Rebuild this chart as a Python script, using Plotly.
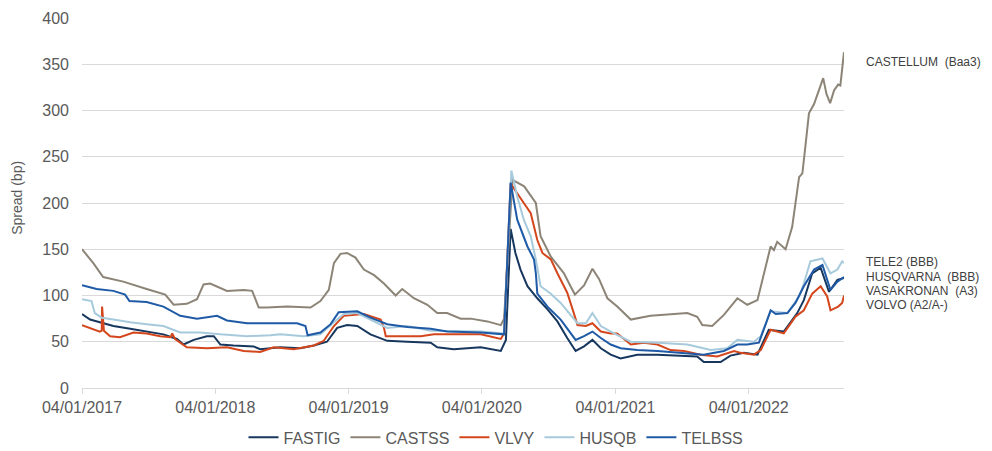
import plotly.graph_objects as go

# ---- CASTSS (Castellum) ----
castss_dates = [
    "2017-01-04", "2017-02-04", "2017-03-03", "2017-04-27", "2017-06-30", "2017-08-20",
    "2017-09-12", "2017-10-18", "2017-11-15", "2017-12-03", "2017-12-21", "2018-02-05",
    "2018-03-23", "2018-04-15", "2018-05-03", "2018-05-26", "2018-07-20", "2018-09-22",
    "2018-10-19", "2018-11-11", "2018-11-25", "2018-12-13", "2018-12-31", "2019-01-23",
    "2019-02-15", "2019-03-15", "2019-04-11", "2019-05-13", "2019-05-31", "2019-07-02",
    "2019-08-08", "2019-09-04", "2019-10-01", "2019-11-07", "2019-12-05", "2020-01-19",
    "2020-02-25", "2020-03-05", "2020-03-28", "2020-04-29", "2020-05-31", "2020-06-13",
    "2020-07-11", "2020-08-16", "2020-09-03", "2020-09-15", "2020-10-10", "2020-11-02",
    "2020-11-20", "2020-12-13", "2021-01-09", "2021-02-15", "2021-04-10", "2021-06-04",
    "2021-07-20", "2021-08-16", "2021-08-30", "2021-09-26", "2021-10-28", "2021-12-04",
    "2021-12-31", "2022-01-28", "2022-02-15", "2022-03-05", "2022-03-14", "2022-03-23",
    "2022-04-15", "2022-05-03", "2022-05-22", "2022-05-31", "2022-06-09", "2022-06-18",
    "2022-07-02", "2022-07-15", "2022-07-27", "2022-08-05", "2022-08-15", "2022-08-26",
    "2022-09-06", "2022-09-12", "2022-09-22",
]
castss_values = [
    150, 135, 120, 115, 107, 101,
    90, 91, 96, 112, 113, 105,
    106, 105, 87, 87, 88, 87,
    94, 106, 135, 145, 146, 141,
    128, 122, 113, 100, 107, 97,
    90, 81, 81, 75, 75, 72,
    68, 75, 225, 218, 200, 164,
    142, 124, 110, 101, 111, 129,
    118, 97, 88, 74, 78, 80,
    81, 77, 68, 67, 79, 97,
    90, 95, 124, 153, 149, 158,
    150, 174, 228, 232, 264, 297,
    307, 322, 335, 318, 308, 322,
    328, 327, 363,
]

# ---- TELBSS (Tele2) ----
telbss_dates = [
    "2017-01-04", "2017-02-13", "2017-03-31", "2017-05-02", "2017-05-14", "2017-06-30",
    "2017-08-15", "2017-09-30", "2017-11-15", "2018-01-09", "2018-02-05", "2018-04-01",
    "2018-05-26", "2018-08-16", "2018-09-08", "2018-09-14", "2018-10-19", "2018-11-16",
    "2018-12-08", "2019-01-28", "2019-03-05", "2019-04-20", "2019-06-14", "2019-08-17",
    "2019-10-01", "2020-01-01", "2020-03-05", "2020-03-12", "2020-03-23", "2020-04-10",
    "2020-05-08", "2020-05-26", "2020-05-31", "2020-06-04", "2020-07-02", "2020-08-07",
    "2020-09-17", "2020-10-10", "2020-11-02", "2020-11-25", "2020-12-22", "2021-01-18",
    "2021-03-05", "2021-04-29", "2021-07-11", "2021-09-03", "2021-10-28", "2021-12-04",
    "2021-12-31", "2022-02-01", "2022-02-24", "2022-03-05", "2022-03-19", "2022-04-20",
    "2022-05-12", "2022-06-04", "2022-07-02", "2022-07-25", "2022-08-16", "2022-09-04",
    "2022-09-22",
]
telbss_values = [
    111, 107, 105, 101, 94, 93,
    88, 78, 75, 78, 73, 70,
    70, 70, 67, 57, 60, 69,
    82, 83, 76, 69, 66, 64,
    61, 60, 58, 124, 222, 182,
    153, 139, 124, 102, 88, 74,
    52, 56, 61, 54, 47, 43,
    41, 40, 38, 36, 40, 47,
    47, 49, 74, 84, 80, 81,
    92, 110, 128, 133, 106, 115,
    120,
]

# ---- HUSQB (Husqvarna) ----
husqb_dates = [
    "2017-01-04", "2017-01-30", "2017-02-08", "2017-02-27", "2017-03-31", "2017-05-16",
    "2017-06-30", "2017-08-15", "2017-09-30", "2017-11-24", "2018-01-18", "2018-04-01",
    "2018-06-04", "2018-07-01", "2018-09-03", "2018-10-19", "2018-11-25", "2018-12-22",
    "2019-01-28", "2019-03-05", "2019-04-20", "2019-06-14", "2019-08-17", "2020-01-01",
    "2020-03-05", "2020-03-25", "2020-04-10", "2020-04-28", "2020-05-17", "2020-05-31",
    "2020-06-13", "2020-07-11", "2020-08-07", "2020-09-03", "2020-09-22", "2020-10-15",
    "2020-11-02", "2020-11-25", "2020-12-31", "2021-02-15", "2021-04-29", "2021-07-20",
    "2021-09-22", "2021-11-06", "2021-12-04", "2022-01-18", "2022-02-06", "2022-03-05",
    "2022-04-20", "2022-05-22", "2022-06-04", "2022-06-22", "2022-07-25", "2022-08-16",
    "2022-09-04", "2022-09-17", "2022-09-22",
]
husqb_values = [
    96, 94, 81, 76, 74, 71,
    69, 67, 60, 60, 58, 56,
    57, 58, 56, 58, 71, 80,
    81, 74, 65, 67, 62, 61,
    59, 235, 207, 182, 164, 139,
    110, 102, 92, 79, 70, 70,
    81, 67, 59, 50, 49, 47,
    41, 43, 52, 50, 56, 83,
    81, 99, 113, 137, 140, 124,
    128, 137, 135,
]

# ---- VLVY (Volvo) ----
vlvy_dates = [
    "2017-01-04", "2017-01-26", "2017-02-22", "2017-02-27", "2017-02-28", "2017-03-05",
    "2017-03-22", "2017-04-18", "2017-05-25", "2017-06-30", "2017-08-06", "2017-09-04",
    "2017-09-08", "2017-09-16", "2017-10-18", "2017-12-12", "2018-02-05", "2018-03-23",
    "2018-05-07", "2018-06-13", "2018-08-07", "2018-10-01", "2018-10-28", "2018-11-25",
    "2018-12-22", "2019-02-15", "2019-04-02", "2019-04-11", "2019-04-16", "2019-05-27",
    "2019-07-21", "2019-08-26", "2019-10-19", "2020-01-01", "2020-02-25", "2020-03-05",
    "2020-03-23", "2020-04-10", "2020-04-28", "2020-05-17", "2020-06-04", "2020-06-18",
    "2020-07-11", "2020-07-29", "2020-08-25", "2020-09-12", "2020-09-22", "2020-10-15",
    "2020-11-02", "2020-11-25", "2020-12-22", "2021-01-09", "2021-02-15", "2021-03-23",
    "2021-04-29", "2021-06-04", "2021-07-11", "2021-08-25", "2021-10-10", "2021-11-25",
    "2021-12-13", "2022-01-18", "2022-02-06", "2022-03-05", "2022-04-10", "2022-05-12",
    "2022-06-04", "2022-06-27", "2022-07-20", "2022-08-07", "2022-08-16", "2022-09-06",
    "2022-09-17", "2022-09-22",
]
vlvy_values = [
    68, 65, 61, 62, 88, 62,
    56, 55, 60, 59, 56, 55,
    59, 53, 44, 43, 44, 40,
    39, 44, 42, 46, 51, 67,
    78, 80, 74, 65, 56, 56,
    56, 58, 58, 58, 53, 59,
    221, 210, 200, 189, 160, 146,
    139, 124, 103, 81, 68, 67,
    70, 61, 59, 59, 47, 49,
    47, 41, 40, 36, 34, 40,
    38, 36, 41, 63, 59, 77,
    84, 102, 110, 99, 84, 88,
    92, 100,
]

# ---- FASTIG (Vasakronan) ----
fastig_dates = [
    "2017-01-04", "2017-01-26", "2017-02-22", "2017-03-31", "2017-05-16", "2017-06-30",
    "2017-08-15", "2017-09-21", "2017-10-09", "2017-11-06", "2017-12-12", "2017-12-31",
    "2018-01-18", "2018-02-23", "2018-04-19", "2018-05-07", "2018-07-01", "2018-08-25",
    "2018-10-01", "2018-11-06", "2018-12-04", "2018-12-31", "2019-01-28", "2019-03-05",
    "2019-04-20", "2019-06-14", "2019-08-17", "2019-09-04", "2019-10-19", "2020-01-01",
    "2020-02-25", "2020-03-10", "2020-03-23", "2020-04-05", "2020-04-19", "2020-05-08",
    "2020-06-04", "2020-07-02", "2020-07-29", "2020-08-25", "2020-09-17", "2020-10-10",
    "2020-11-02", "2020-11-25", "2020-12-22", "2021-01-18", "2021-03-05", "2021-04-29",
    "2021-07-11", "2021-08-16", "2021-09-03", "2021-10-19", "2021-11-15", "2021-12-22",
    "2022-01-28", "2022-02-28", "2022-04-10", "2022-05-17", "2022-06-04", "2022-06-27",
    "2022-07-20", "2022-08-12", "2022-09-04", "2022-09-22",
]
fastig_values = [
    80, 74, 71, 67, 64, 61,
    58, 53, 47, 52, 56, 56,
    47, 46, 45, 42, 44, 43,
    46, 50, 65, 68, 67, 58,
    51, 50, 49, 44, 42, 44,
    40, 52, 172, 146, 128, 110,
    97, 85, 72, 54, 40, 45,
    52, 43, 36, 32, 36, 36,
    35, 34, 28, 28, 35, 38,
    36, 63, 61, 81, 95, 124,
    130, 104, 117, 119,
]

# Legend order and colours
series = [
    ("FASTIG", fastig_dates, fastig_values, "#17375E"),
    ("CASTSS", castss_dates, castss_values, "#8C8577"),
    ("VLVY", vlvy_dates, vlvy_values, "#D4461C"),
    ("HUSQB", husqb_dates, husqb_values, "#A6CADC"),
    ("TELBSS", telbss_dates, telbss_values, "#1F5AA6"),
]

tick_dates = ["2017-01-04", "2018-01-04", "2019-01-04", "2020-01-04", "2021-01-04", "2022-01-04"]
y_ticks = [0, 50, 100, 150, 200, 250, 300, 350, 400]

# Ratings labels at the right edge (vertical position in bp)
right_labels = [
    ("CASTELLUM  (Baa3)", 352),
    ("TELE2 (BBB)", 136),
    ("HUSQVARNA  (BBB)", 120),
    ("VASAKRONAN  (A3)", 105),
    ("VOLVO (A2/A-)", 90),
]

FONT = "Liberation Sans, Arial, sans-serif"
TEXT_GREY = "#595959"

fig = go.Figure()
for name, d, v, c in series:
    fig.add_trace(go.Scatter(
        x=d, y=v, name=name, mode="lines",
        line=dict(color=c, width=2),
    ))

for text, yv in right_labels:
    fig.add_annotation(
        x=1.0, xref="paper", xshift=20, xanchor="left",
        y=yv, yref="y", yanchor="middle",
        text=text, showarrow=False,
        font=dict(family=FONT, size=12, color="#404040"),
    )

fig.add_annotation(
    x=-0.0853, xref="paper", xanchor="center",
    y=0.514, yref="paper", yanchor="middle",
    text="Spread (bp)", textangle=-90, showarrow=False,
    font=dict(family=FONT, size=14, color=TEXT_GREY),
)

fig.update_layout(
    width=992, height=451,
    margin=dict(l=82, r=148, t=18, b=63, autoexpand=False),
    paper_bgcolor="white", plot_bgcolor="white",
    font=dict(family=FONT, size=16, color=TEXT_GREY),
    showlegend=True,
    legend=dict(
        orientation="h",
        xref="container", yref="container",
        x=0.5, xanchor="center", y=0.03, yanchor="middle",
        font=dict(family=FONT, size=16, color=TEXT_GREY),
        itemwidth=30, traceorder="normal",
    ),
    xaxis=dict(
        type="date",
        range=["2017-01-04", "2022-09-22"],
        tickvals=tick_dates, tickformat="%d/%m/%Y",
        ticks="outside", ticklen=5, tickcolor="#D9D9D9",
        showline=True, linecolor="#D9D9D9", linewidth=1,
        showgrid=False, zeroline=False, automargin=False,
        tickfont=dict(family=FONT, size=16, color=TEXT_GREY),
    ),
    yaxis=dict(
        range=[0, 400], tickvals=y_ticks,
        showgrid=True, gridcolor="#D9D9D9", gridwidth=1,
        zeroline=False, showline=False, ticks="", automargin=False,
        ticklabelstandoff=12,
        tickfont=dict(family=FONT, size=16, color=TEXT_GREY),
    ),
)

fig.write_html("out.html")
